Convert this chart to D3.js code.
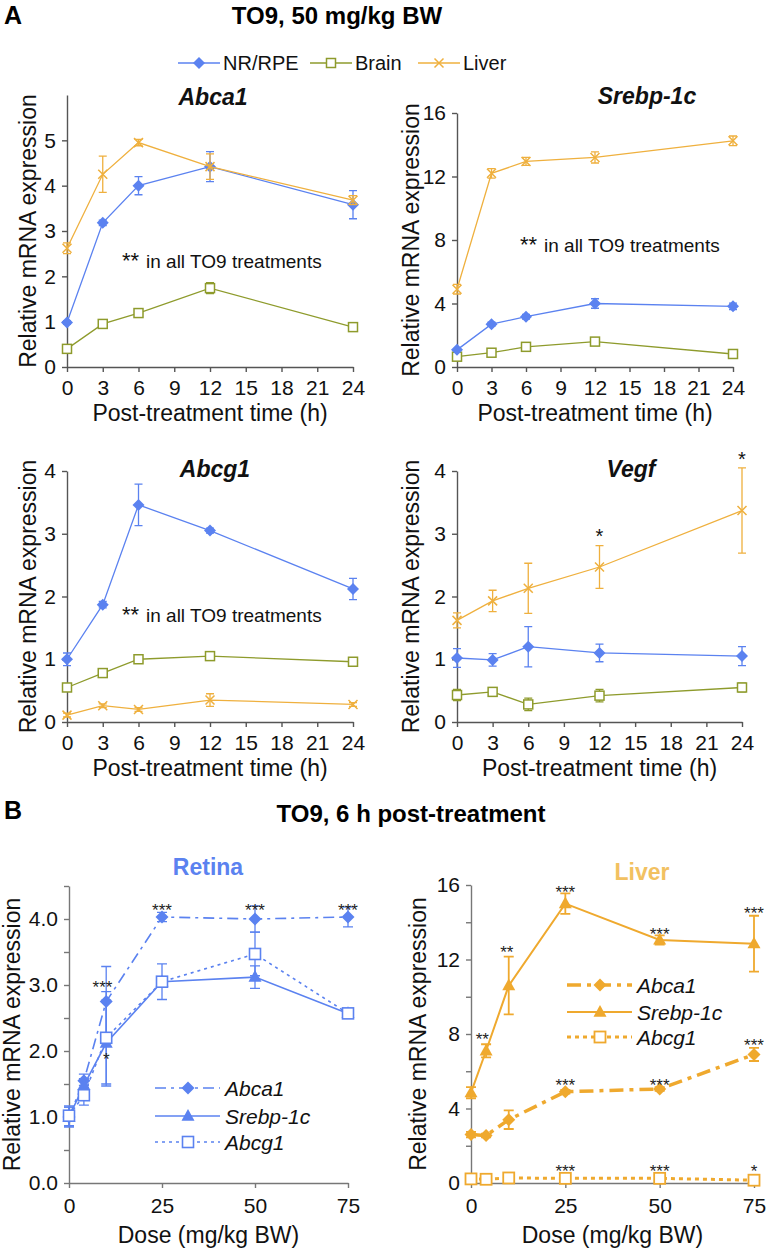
<!DOCTYPE html>
<html><head><meta charset="utf-8">
<script src="https://cdn.jsdelivr.net/npm/d3@7"></script>
<style>body{margin:0;background:#fff}svg{display:block;font-family:"Liberation Sans",Arial,sans-serif}</style>
</head><body><svg id="c" width="768" height="1251"></svg>
<script>
// ---------- DATA ----------
const times = [0, 3, 6, 12, 24];
const timeTicks = [0, 3, 6, 9, 12, 15, 18, 21, 24];
const tissues = ["NR/RPE", "Brain", "Liver"];

const abca1NR = [0.98, 3.18, 4.0, 4.42, 3.58];
const abca1NRErr = [0.04, 0.06, 0.2, 0.33, 0.31];
const abca1Brain = [0.4, 0.95, 1.19, 1.74, 0.88];
const abca1BrainErr = [0.03, 0.05, 0.05, 0.12, 0.05];
const abca1Liver = [2.62, 4.25, 4.95, 4.42, 3.68];
const abca1LiverErr = [0.12, 0.4, 0.07, 0.28, 0.1];

const srebpNR = [1.08, 2.7, 3.17, 4.0, 3.82];
const srebpNRErr = [0.05, 0.12, 0.15, 0.3, 0.2];
const srebpBrain = [0.65, 0.9, 1.27, 1.6, 0.82];
const srebpBrainErr = [0.05, 0.05, 0.08, 0.05, 0.05];
const srebpLiver = [4.9, 12.2, 12.95, 13.2, 14.25];
const srebpLiverErr = [0.3, 0.3, 0.25, 0.35, 0.3];

const abcg1NR = [1.0, 1.87, 3.46, 3.05, 2.12];
const abcg1NRErr = [0.1, 0.05, 0.33, 0.04, 0.17];
const abcg1Brain = [0.55, 0.78, 1.0, 1.05, 0.96];
const abcg1BrainErr = [0.04, 0.05, 0.04, 0.03, 0.04];
const abcg1Liver = [0.11, 0.26, 0.2, 0.35, 0.28];
const abcg1LiverErr = [0.03, 0.03, 0.03, 0.1, 0.03];

const vegfNR = [1.02, 0.99, 1.2, 1.1, 1.05];
const vegfNRErr = [0.15, 0.1, 0.32, 0.14, 0.15];
const vegfBrain = [0.43, 0.48, 0.28, 0.42, 0.55];
const vegfBrainErr = [0.09, 0.05, 0.1, 0.1, 0.07];
const vegfLiver = [1.62, 1.93, 2.13, 2.47, 3.37];
const vegfLiverErr = [0.12, 0.17, 0.4, 0.34, 0.68];
const vegfStars = [{t: 12, v: 3.03, s: "*"}, {t: 24, v: 4.25, s: "*"}];

const doses = [0, 4, 10, 25, 50, 75];
const doseTicks = [0, 25, 50, 75];
const genes = ["Abca1", "Srebp-1c", "Abcg1"];

const retAbca1 = [1.0, 1.55, 2.75, 4.03, 4.0, 4.03];
const retAbca1Err = [0.15, 0.1, 0.53, 0.07, 0.2, 0.15];
const retSrebp = [1.0, 1.48, 2.12, 3.05, 3.12, 2.57];
const retSrebpErr = [0.15, 0.1, 0.65, 0.27, 0.17, 0.05];
const retAbcg1 = [1.02, 1.33, 2.2, 3.05, 3.47, 2.57];
const retAbcg1Err = [0.15, 0.15, 0.7, 0.05, 0.33, 0.05];
const retStars = [
  {d: 9, v: 3.03, s: "***"}, {d: 10, v: 1.94, s: "*"},
  {d: 25, v: 4.2, s: "***"}, {d: 50, v: 4.2, s: "***"}, {d: 75, v: 4.2, s: "***"}
];

const livAbca1 = [2.6, 2.55, 3.4, 4.9, 5.05, 6.9];
const livAbca1Err = [0.15, 0.1, 0.5, 0.1, 0.1, 0.35];
const livSrebp = [4.85, 7.1, 10.6, 15.0, 13.05, 12.85];
const livSrebpErr = [0.3, 0.35, 1.55, 0.55, 0.25, 1.5];
const livAbcg1 = [0.22, 0.2, 0.27, 0.25, 0.25, 0.15];
const livAbcg1Err = [0.03, 0.03, 0.03, 0.03, 0.03, 0.03];
const livStars = [
  {d: 3, v: 7.97, s: "**"}, {d: 9.5, v: 12.6, s: "**"},
  {d: 25, v: 15.85, s: "***"}, {d: 50, v: 13.6, s: "***"}, {d: 75, v: 14.7, s: "***"},
  {d: 25, v: 5.5, s: "***"}, {d: 50, v: 5.5, s: "***"}, {d: 75, v: 7.65, s: "***"},
  {d: 25, v: 0.86, s: "***"}, {d: 50, v: 0.86, s: "***"}, {d: 75, v: 0.86, s: "*"}
];

// ---------- STYLE ----------
const C_NR = "#5b82f0", C_BR = "#8e9b2c", C_LV = "#efb03e";
const C_RET = "#5b82f0", C_LIVB = "#efa92e", C_LIVT = "#f2c161";
const AX = "#555";
const svg = d3.select("#c");

function marker(g, type, color, r, x, y, lw) {
  lw = lw || 1.5;
  if (type === "diamond") {
    g.append("path").attr("d", `M${x},${y-r}L${x+r},${y}L${x},${y+r}L${x-r},${y}Z`).attr("fill", color);
  } else if (type === "square") {
    g.append("rect").attr("x", x-r).attr("y", y-r).attr("width", 2*r).attr("height", 2*r)
      .attr("fill", "#fff").attr("stroke", color).attr("stroke-width", lw);
  } else if (type === "x") {
    g.append("path").attr("d", `M${x-r},${y-r}L${x+r},${y+r}M${x-r},${y+r}L${x+r},${y-r}`)
      .attr("stroke", color).attr("stroke-width", lw).attr("fill", "none");
  } else if (type === "triangle") {
    const h = r*1.8;
    g.append("path").attr("d", `M${x},${y-h*0.6}L${x+r},${y+h*0.4}L${x-r},${y+h*0.4}Z`).attr("fill", color);
  }
}

function series(g, x, y, xs, vals, errs, color, type, opt) {
  const line = d3.line().x((d, i) => x(xs[i])).y(d => y(d));
  g.append("path").attr("d", line(vals)).attr("fill", "none").attr("stroke", color)
    .attr("stroke-width", opt.lw).attr("stroke-dasharray", opt.dash || null);
  vals.forEach((v, i) => {
    const cx = x(xs[i]), lo = y(v - errs[i]), hi = y(v + errs[i]);
    g.append("path").attr("d", `M${cx},${lo}V${hi}M${cx-opt.cap},${lo}H${cx+opt.cap}M${cx-opt.cap},${hi}H${cx+opt.cap}`)
      .attr("stroke", color).attr("stroke-width", opt.elw || 1.3).attr("fill", "none");
  });
  vals.forEach((v, i) => marker(g, type, color, opt.r, x(xs[i]), y(v), opt.mlw));
}

function axes(g, x, y, xTicks, yTicks, yLabels, cfg) {
  const gx = g.append("g").attr("transform", `translate(0,${y.range()[0]})`)
    .call(d3.axisBottom(x).tickValues(xTicks).tickSize(5).tickSizeOuter(0));
  gx.selectAll("text").attr("y", cfg.xlabY).attr("dy", null).attr("font-size", 21).attr("fill", "#111");
  const gy = g.append("g").attr("transform", `translate(${x.range()[0]},0)`)
    .call(d3.axisLeft(y).tickValues(yTicks).tickSize(5).tickSizeOuter(0)
      .tickFormat(d => yLabels(d)));
  gy.selectAll("text").attr("x", -11).attr("font-size", 21).attr("fill", "#111");
  [gx, gy].forEach(a => {
    a.attr("font-family", null);
    a.selectAll("path,line").attr("stroke", cfg.axColor || AX).attr("stroke-width", 1.4);
  });
  g.append("text").attr("x", (x.range()[0] + x.range()[1]) / 2).attr("y", y.range()[0] + cfg.xtitleY)
    .attr("text-anchor", "middle").attr("font-size", 23).attr("fill", "#111").text(cfg.xtitle);
  const cy = (y.range()[0] + y.range()[1]) / 2;
  g.append("text").attr("transform", `translate(${x.range()[0] - cfg.ytitleOff},${cy}) rotate(-90)`)
    .attr("text-anchor", "middle").attr("font-size", 23).attr("fill", "#111").text("Relative mRNA expression");
}

// ---------- HEADINGS ----------
svg.append("text").attr("x", 4).attr("y", 24).attr("font-size", 25).attr("font-weight", "bold").text("A");
svg.append("text").attr("x", 337).attr("y", 24).attr("font-size", 24).attr("font-weight", "bold")
  .attr("text-anchor", "middle").text("TO9, 50 mg/kg BW");
svg.append("text").attr("x", 4).attr("y", 819).attr("font-size", 25).attr("font-weight", "bold").text("B");
svg.append("text").attr("x", 411).attr("y", 822).attr("font-size", 24).attr("font-weight", "bold")
  .attr("text-anchor", "middle").text("TO9, 6 h post-treatment");

// top legend
const legColors = [C_NR, C_BR, C_LV], legMarkers = ["diamond", "square", "x"];
const legX = [178, 310, 418];
tissues.forEach((t, i) => {
  const lg = svg.append("g");
  lg.append("line").attr("x1", legX[i]).attr("x2", legX[i] + 42).attr("y1", 63).attr("y2", 63)
    .attr("stroke", legColors[i]).attr("stroke-width", 1.3);
  marker(lg, legMarkers[i], legColors[i], legMarkers[i] === "diamond" ? 6 : 4.5, legX[i] + 21, 63);
  lg.append("text").attr("x", legX[i] + 45).attr("y", 70).attr("font-size", 20).attr("fill", "#111").text(t);
});

// ---------- PANEL A ----------
function timePanel(cfg) {
  const g = svg.append("g");
  const x = d3.scaleLinear().domain([0, 24]).range([cfg.x0, cfg.x1]);
  const y = d3.scaleLinear().domain([0, cfg.ymax]).range([cfg.y0, cfg.y1]);
  axes(g, x, y, timeTicks, cfg.yticks, d => d, {xlabY: 28, xtitleY: 54, xtitle: "Post-treatment time (h)", ytitleOff: cfg.ytOff});
  g.append("text").attr("x", cfg.tx).attr("y", cfg.ty).attr("text-anchor", "middle").attr("font-size", 23)
    .attr("font-weight", "bold").attr("font-style", "italic").attr("fill", "#111").text(cfg.title);
  const opt = {lw: 1.3, cap: 4, r: 6, elw: 1.3};
  cfg.series.forEach(s => series(g, x, y, times, s.v, s.e, s.c, s.m, Object.assign({}, opt, {r: s.m === "diamond" ? 6 : 4.5})));
  if (cfg.note) {
    g.append("text").attr("x", cfg.note[0]).attr("y", cfg.note[1]).attr("font-size", 22).attr("fill", "#111").text("**");
    g.append("text").attr("x", cfg.note[0] + 24).attr("y", cfg.note[1]).attr("font-size", 19).attr("fill", "#111").text("in all TO9 treatments");
  }
  if (cfg.stars) cfg.stars.forEach(s => g.append("text").attr("x", x(s.t)).attr("y", y(s.v) + 11)
    .attr("text-anchor", "middle").attr("font-size", 20).attr("fill", "#111").text(s.s));
}

timePanel({x0: 67, x1: 353, y0: 367, y1: 95, ymax: 6, yticks: [0, 1, 2, 3, 4, 5], ytOff: 31,
  title: "Abca1", tx: 213, ty: 105, note: [122, 268],
  series: [{v: abca1Brain, e: abca1BrainErr, c: C_BR, m: "square"}, {v: abca1NR, e: abca1NRErr, c: C_NR, m: "diamond"},
           {v: abca1Liver, e: abca1LiverErr, c: C_LV, m: "x"}]});
timePanel({x0: 457, x1: 733, y0: 367, y1: 113, ymax: 16, yticks: [0, 4, 8, 12, 16], ytOff: 38,
  title: "Srebp-1c", tx: 647, ty: 104, note: [520, 252],
  series: [{v: srebpBrain, e: srebpBrainErr, c: C_BR, m: "square"}, {v: srebpNR, e: srebpNRErr, c: C_NR, m: "diamond"},
           {v: srebpLiver, e: srebpLiverErr, c: C_LV, m: "x"}]});
timePanel({x0: 67, x1: 353, y0: 722, y1: 471, ymax: 4, yticks: [0, 1, 2, 3, 4], ytOff: 31,
  title: "Abcg1", tx: 215, ty: 477, note: [122, 622],
  series: [{v: abcg1Brain, e: abcg1BrainErr, c: C_BR, m: "square"}, {v: abcg1NR, e: abcg1NRErr, c: C_NR, m: "diamond"},
           {v: abcg1Liver, e: abcg1LiverErr, c: C_LV, m: "x"}]});
timePanel({x0: 457, x1: 742, y0: 722, y1: 471, ymax: 4, yticks: [0, 1, 2, 3, 4], ytOff: 38,
  title: "Vegf", tx: 631, ty: 477, stars: vegfStars,
  series: [{v: vegfBrain, e: vegfBrainErr, c: C_BR, m: "square"}, {v: vegfNR, e: vegfNRErr, c: C_NR, m: "diamond"},
           {v: vegfLiver, e: vegfLiverErr, c: C_LV, m: "x"}]});

// ---------- PANEL B ----------
function dosePanel(cfg) {
  const g = svg.append("g");
  const x = d3.scaleLinear().domain([0, 75]).range([cfg.x0, cfg.x1]);
  const y = d3.scaleLinear().domain([0, cfg.ymax]).range([cfg.y0, cfg.y1]);
  axes(g, x, y, doseTicks, cfg.yticks, cfg.ylab, {xlabY: 30, xtitleY: 60, xtitle: "Dose (mg/kg BW)", ytitleOff: cfg.ytOff, axColor: "#777"});
  g.append("text").attr("x", cfg.tx).attr("y", cfg.ty).attr("text-anchor", "middle").attr("font-size", 23)
    .attr("font-weight", "bold").attr("fill", cfg.tcolor).text(cfg.title);
  cfg.series.forEach(s => series(g, x, y, doses, s.v, s.e, cfg.color, s.m, s.opt));
  cfg.stars.forEach(s => g.append("text").attr("x", x(s.d)).attr("y", y(s.v) + 10)
    .attr("text-anchor", "middle").attr("font-size", 17).attr("fill", "#222").text(s.s));
  // legend
  cfg.series.forEach((s, i) => {
    const ly = cfg.legY[i];
    g.append("line").attr("x1", cfg.legX).attr("x2", cfg.legX + 65).attr("y1", ly).attr("y2", ly)
      .attr("stroke", cfg.color).attr("stroke-width", s.opt.lw).attr("stroke-dasharray", s.opt.dash || null);
    marker(g, s.m, cfg.color, s.opt.r, cfg.legX + 33, ly, s.opt.mlw);
    g.append("text").attr("x", cfg.legX + 70).attr("y", ly + 8).attr("font-size", 21).attr("font-style", "italic")
      .attr("fill", "#111").text(genes[i]);
  });
}

dosePanel({x0: 69, x1: 348, y0: 1183, y1: 886, ymax: 4.5, ytOff: 49,
  yticks: d3.range(0, 4.51, 0.5), ylab: d => (d % 1 === 0 ? d.toFixed(1) : ""),
  title: "Retina", tx: 208, ty: 875, tcolor: C_RET, color: C_RET, stars: retStars,
  legX: 155, legY: [1088, 1116, 1142],
  series: [
    {v: retAbca1, e: retAbca1Err, m: "diamond", opt: {lw: 1.6, dash: "11,5,3,5", cap: 5, r: 6.5}},
    {v: retSrebp, e: retSrebpErr, m: "triangle", opt: {lw: 1.6, cap: 5, r: 6.5}},
    {v: retAbcg1, e: retAbcg1Err, m: "square", opt: {lw: 1.6, dash: "3,4", cap: 5, r: 5.5, mlw: 1.6}}
  ]});

dosePanel({x0: 471, x1: 754, y0: 1183, y1: 885, ymax: 16, ytOff: 45,
  yticks: d3.range(0, 16.1, 2), ylab: d => (d % 4 === 0 ? d : ""),
  title: "Liver", tx: 642, ty: 880, tcolor: C_LIVT, color: C_LIVB, stars: livStars,
  legX: 567, legY: [985, 1012, 1037],
  series: [
    {v: livAbca1, e: livAbca1Err, m: "diamond", opt: {lw: 3.5, dash: "14,6,4,6", cap: 5, r: 6.5, elw: 1.8}},
    {v: livSrebp, e: livSrebpErr, m: "triangle", opt: {lw: 2, cap: 5, r: 6.5, elw: 1.8}},
    {v: livAbcg1, e: livAbcg1Err, m: "square", opt: {lw: 3, dash: "4,4", cap: 5, r: 5.5, mlw: 1.8, elw: 1.8}}
  ]});
</script></body></html>
